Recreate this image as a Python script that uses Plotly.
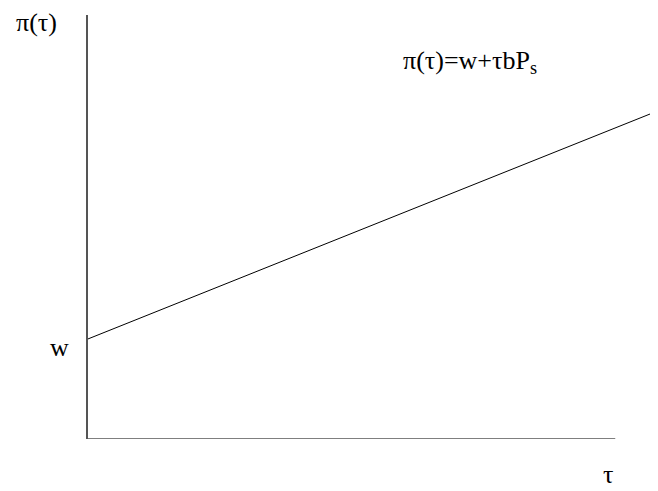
import plotly.graph_objects as go

# data (abstract units)
tau = [0, 10]
pi_vals = [2.36, 7.74]
x_axis_end = 9.25
y_label = "π(τ)"
x_label = "τ"
w_label = "w"
equation = "π(τ)=w+τbP<sub>s</sub>"

OFF = 8  # browser body margin
WIN_W, WIN_H = 658, 491
W, H = WIN_W - OFF, WIN_H - OFF
L, T = 88 - OFF, 15 - OFF
B = WIN_H - 439
pw = W - L
ph = H - T - B

def px(x):
    return (x - OFF - L) / pw

def py(y):
    return (H - B - (y - OFF)) / ph

font = dict(family="Liberation Serif, Times New Roman, serif", size=26, color="black")

fig = go.Figure()
fig.add_trace(go.Scatter(x=tau, y=pi_vals, mode="lines",
                         line=dict(color="black", width=1), showlegend=False,
                         hoverinfo="skip"))

fig.add_shape(type="line", xref="x", yref="y", x0=0, y0=0, x1=x_axis_end, y1=0,
              line=dict(color="#555555", width=1.5))

fig.update_xaxes(range=[0, 10], showline=False, showgrid=False, zeroline=False,
                 showticklabels=False, ticks="")
fig.update_yaxes(range=[0, 10], showline=True, linecolor="#555555", linewidth=1.5,
                 showgrid=False, zeroline=False, showticklabels=False, ticks="")

ann = [
    (y_label, 36, 23),
    (equation, 470, 62),
    (w_label, 59, 347),
    (x_label, 608, 474),
]
for text, x, y in ann:
    fig.add_annotation(text=text, x=px(x), y=py(y), xref="paper", yref="paper",
                       showarrow=False, font=font, xanchor="center", yanchor="middle")

fig.update_layout(width=W, height=H, margin=dict(l=L, r=0, t=T, b=B),
                  plot_bgcolor="white", paper_bgcolor="white")

fig.write_html("out.html")
